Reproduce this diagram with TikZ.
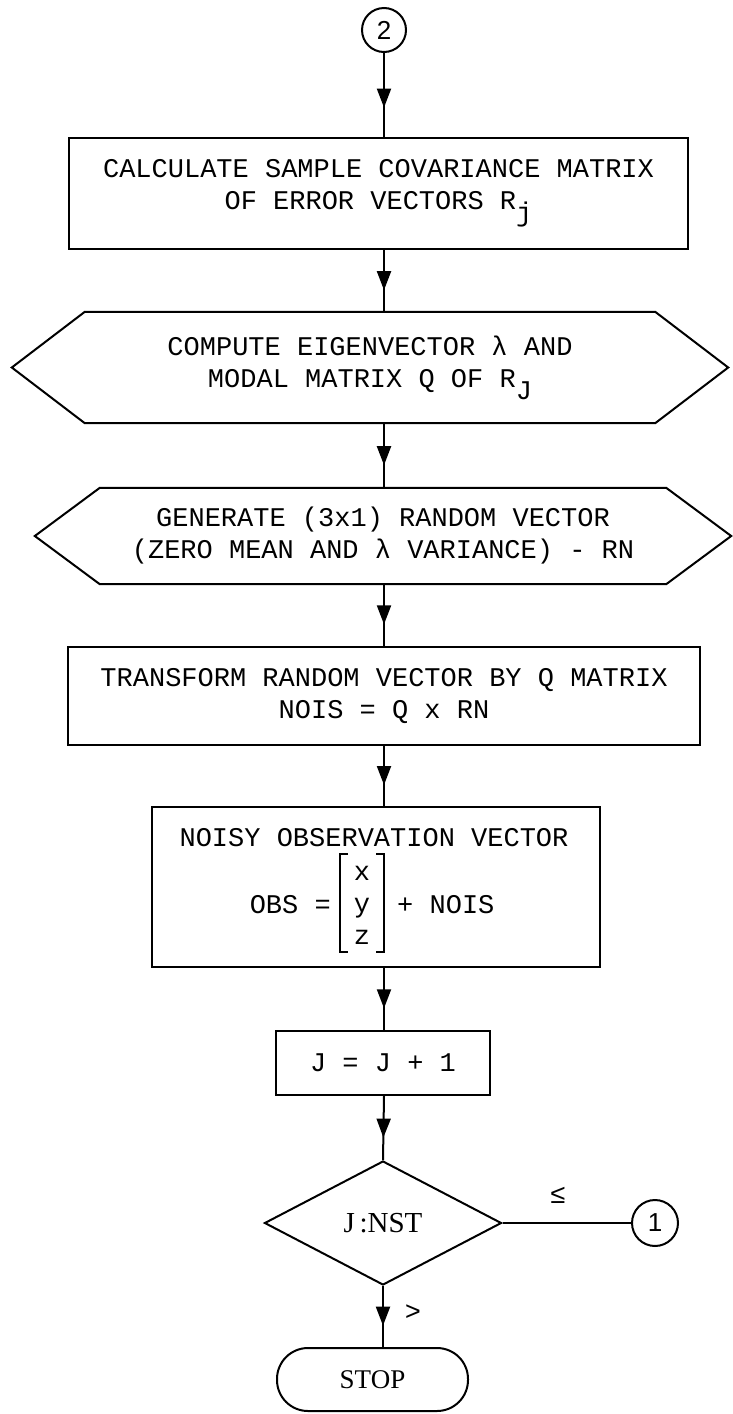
\documentclass[tikz,border=0pt]{standalone}
\usepackage{fontspec}
\setmainfont{Liberation Mono}
\newfontfamily\serifface{Liberation Serif}
\newfontfamily\circleface{Liberation Sans}
\usetikzlibrary{shapes.geometric,arrows.meta,decorations.markings}

\begin{document}
\begin{tikzpicture}[x=1pt,y=-1pt,
  every node/.style={font=\fontsize{27}{32}\selectfont},
  box/.style={draw,line width=2pt,align=center,inner sep=0pt},
  plain/.style={align=center,inner sep=0pt},
  conn/.style={circle,draw,line width=2pt,minimum size=44pt,inner sep=0pt,font=\circleface\fontsize{26}{30}\selectfont},
  flow/.style={line width=2pt,postaction={decorate},
    decoration={markings,mark=at position 0.65 with {\arrow{Triangle[length=19pt,width=14pt]}}}}]
\useasboundingbox (0,0) rectangle (732,1414);

\node[conn] (two) at (384,30) {2};
\node[box,minimum width=619pt,minimum height=111pt] (calc) at (378.5,193.5)
  {CALCULATE SAMPLE COVARIANCE MATRIX\\OF ERROR VECTORS R\raisebox{-12pt}{j}};
\node[plain,minimum width=570pt,minimum height=111pt] (eigen) at (370,367.5)
  {COMPUTE EIGENVECTOR λ AND\\MODAL MATRIX Q OF R\raisebox{-12pt}{J}};
\node[plain,minimum width=566pt,minimum height=96pt] (gen) at (383,536)
  {GENERATE (3x1) RANDOM VECTOR\\(ZERO MEAN AND λ VARIANCE) - RN};
\node[box,minimum width=632pt,minimum height=98pt] (trans) at (384,696)
  {TRANSFORM RANDOM VECTOR BY Q MATRIX\\NOIS = Q x RN};
\node[box,minimum width=448pt,minimum height=160pt] (obs) at (376,887) {};
\node[plain] (obstitle) at (374,838) {NOISY OBSERVATION VECTOR};
\node[plain] (vec) at (362,905) {x\\y\\z};
\node[plain,anchor=east] (lhs) at (331,905) {OBS =};
\node[plain,anchor=west] (rhs) at (397,905) {+ NOIS};
\node[box,minimum width=214pt,minimum height=64pt] (inc) at (383,1063) {J = J + 1};
\node[diamond,draw,line width=2pt,minimum width=237pt,minimum height=124pt,inner sep=0pt,
  font=\serifface\fontsize{29}{32}\selectfont] (test) at (383,1223) {J\,:NST};
\node[conn,minimum size=46pt] (one) at (655,1223) {1};
\node[draw,line width=2pt,rounded corners=31pt,minimum width=191pt,minimum height=63pt,
  font=\serifface\fontsize{27}{30}\selectfont] (stop) at (372.5,1379.5) {STOP};

\node (le) at (558,1195) {≤};
\node (gt) at (413,1313) {>};

\draw[line width=2pt] (eigen.north west) -- (eigen.north east) -- ([xshift=73pt]eigen.east)
  -- (eigen.south east) -- (eigen.south west) -- ([xshift=-73pt]eigen.west) -- cycle;
\draw[line width=2pt] (gen.north west) -- (gen.north east) -- ([xshift=65pt]gen.east)
  -- (gen.south east) -- (gen.south west) -- ([xshift=-65pt]gen.west) -- cycle;
\draw[line width=1.6pt] ([shift={(-14,-51)}]vec.center) -- ++(-8,0) -- ++(0,98) -- ++(8,0);
\draw[line width=1.6pt] ([shift={(14,-51)}]vec.center) -- ++(8,0) -- ++(0,98) -- ++(-8,0);

\draw[flow] (two) -- (two |- calc.north);
\foreach \a/\b in {calc/eigen,eigen/gen,gen/trans,trans/obs,obs/inc}
  \draw[flow] (two |- \a.south) -- (two |- \b.north);
\draw[flow] (two |- inc.south) -- (test.north);
\draw[flow] (test.south) -- (test.south |- stop.north);
\draw[line width=2pt] (test.east) -- (one);
\end{tikzpicture}
\end{document}
